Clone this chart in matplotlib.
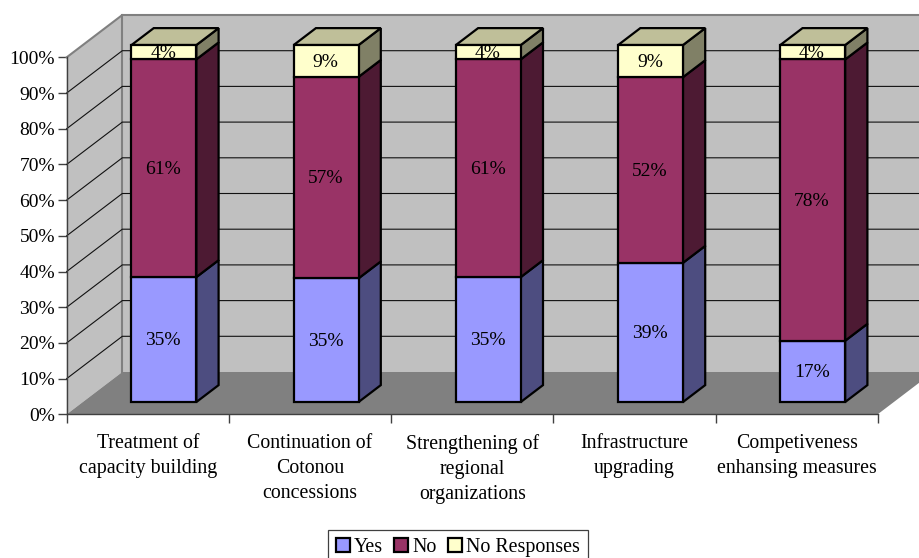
import matplotlib
matplotlib.use("Agg")
import matplotlib.pyplot as plt
from matplotlib.patches import Polygon, Patch

plt.rcParams['font.family'] = ['Liberation Serif', 'DejaVu Serif']

categories = ["Treatment of\ncapacity building", "Continuation of\nCotonou\nconcessions",
              "Strengthening of\nregional\norganizations", "Infrastructure\nupgrading",
              "Competiveness\nenhansing measures"]
yes = [35, 35, 35, 39, 17]
no = [61, 57, 61, 52, 78]
no_responses = [4, 9, 4, 9, 4]
series_names = ["Yes", "No", "No Responses"]
y_ticks = [0, 10, 20, 30, 40, 50, 60, 70, 80, 90, 100]

front_colors = ["#9999FF", "#993366", "#FFFFCC"]
side_colors = ["#4D4D80", "#4D1A33", "#808066"]
top_color = "#BFBF99"
FS = 14
FS_X = 14.3

W, H = 919, 558
fig = plt.figure(figsize=(W / 100, H / 100), dpi=100, facecolor="white")
L, R, T, B = 66.7, 877.7, 57.3, 414.3
ax = fig.add_axes([L / W, 1 - B / H, (R - L) / W, (B - T) / H])
ax.set_xlim(0, 5)
ax.set_ylim(0, 100)
ax.patch.set_alpha(0)

# Oblique depth offset in data units
DX = 55.6 / ((R - L) / 5)
DY = 42.3 / ((B - T) / 100)


def proj(x, y, d):
    return (x + d * DX, y + d * DY)


def poly(pts, face, edge="none", lw=0, z=1):
    ax.add_patch(Polygon(pts, closed=True, facecolor=face, edgecolor=edge, linewidth=lw,
                         zorder=z, clip_on=False, joinstyle="miter"))


# Walls and floor
poly([proj(0, 0, 1), proj(5, 0, 1), proj(5, 100, 1), proj(0, 100, 1)], "#C0C0C0", z=1)
poly([proj(0, 0, 0), proj(0, 0, 1), proj(0, 100, 1), proj(0, 100, 0)], "#C0C0C0", z=1)
poly([proj(0, 0, 0), proj(5, 0, 0), proj(5, 0, 1), proj(0, 0, 1)], "#808080", z=1.5)

# Gridlines
for v in y_ticks[1:-1]:
    a, b, c = proj(0, v, 0), proj(0, v, 1), proj(5, v, 1)
    ax.plot([a[0], b[0], c[0]], [a[1], b[1], c[1]], color="#111111", lw=0.8, zorder=2,
            clip_on=False, solid_joinstyle="miter")

# Wall frame
a, b, c, e = proj(0, 100, 0), proj(0, 100, 1), proj(5, 100, 1), proj(0, 0, 1)
ax.plot([a[0], b[0], c[0]], [a[1], b[1], c[1]], color="#808080", lw=1.5, zorder=2.2, clip_on=False)
ax.plot([b[0], e[0]], [b[1], e[1]], color="#808080", lw=1.5, zorder=1.4, clip_on=False)

# Stacked bars (100 % stacked)
BAR_W = 0.4
D0, D1 = 0.29, 0.69
OUT = dict(edge="black", lw=1.6)
for i, vals in enumerate(zip(yes, no, no_responses)):
    total = sum(vals)
    xl = i + 0.5 - BAR_W / 2
    xr = xl + BAR_W
    base = 0.0
    z = 3 + i
    for j, v in enumerate(vals):
        top = base + v / total * 100
        poly([proj(xr, base, D0), proj(xr, base, D1), proj(xr, top, D1), proj(xr, top, D0)],
             side_colors[j], z=z, **OUT)
        if j == 2:
            poly([proj(xl, top, D0), proj(xr, top, D0), proj(xr, top, D1), proj(xl, top, D1)],
                 top_color, z=z, **OUT)
        poly([proj(xl, base, D0), proj(xr, base, D0), proj(xr, top, D0), proj(xl, top, D0)],
             front_colors[j], z=z + 0.1, **OUT)
        cx, cy = proj(i + 0.5, (base + top) / 2, D0)
        ax.annotate(f"{v}%", (cx, cy), xytext=(-0.5, -1), textcoords="offset points",
                    ha="center", va="center", fontsize=FS, color="black", zorder=20,
                    annotation_clip=False)
        base = top

# Axes
for s in ("top", "right"):
    ax.spines[s].set_visible(False)
for s in ("left", "bottom"):
    ax.spines[s].set_color("#404040")
    ax.spines[s].set_linewidth(1.0)
    ax.spines[s].set_zorder(2.5)
ax.set_yticks(y_ticks)
ax.set_yticklabels([f"{v}%" for v in y_ticks], fontsize=FS)
ax.set_xticks(range(6))
ax.set_xticklabels([])
ax.set_xticks([i + 0.5 for i in range(5)], minor=True)
ax.set_xticklabels(categories, minor=True, fontsize=FS_X, linespacing=1.45, va="top")
ax.tick_params(axis="x", which="minor", length=0, pad=14)
ax.tick_params(axis="both", which="major", length=6.5, width=1.0, color="#404040", pad=2)

# Legend
handles = [Patch(facecolor=c, edgecolor="black", linewidth=1.6) for c in front_colors]
leg = fig.legend(handles, series_names, loc="upper left", bbox_to_anchor=(327.5 / W, 1 - 530 / H), ncol=3,
                 fontsize=14.4, frameon=True, fancybox=False, edgecolor="#404040", framealpha=1,
                 handlelength=0.7, handleheight=0.7, handletextpad=0.2, columnspacing=0.58,
                 borderpad=0.4, borderaxespad=0)
leg.get_frame().set_linewidth(0.9)

fig.savefig("out.png", dpi=100)
